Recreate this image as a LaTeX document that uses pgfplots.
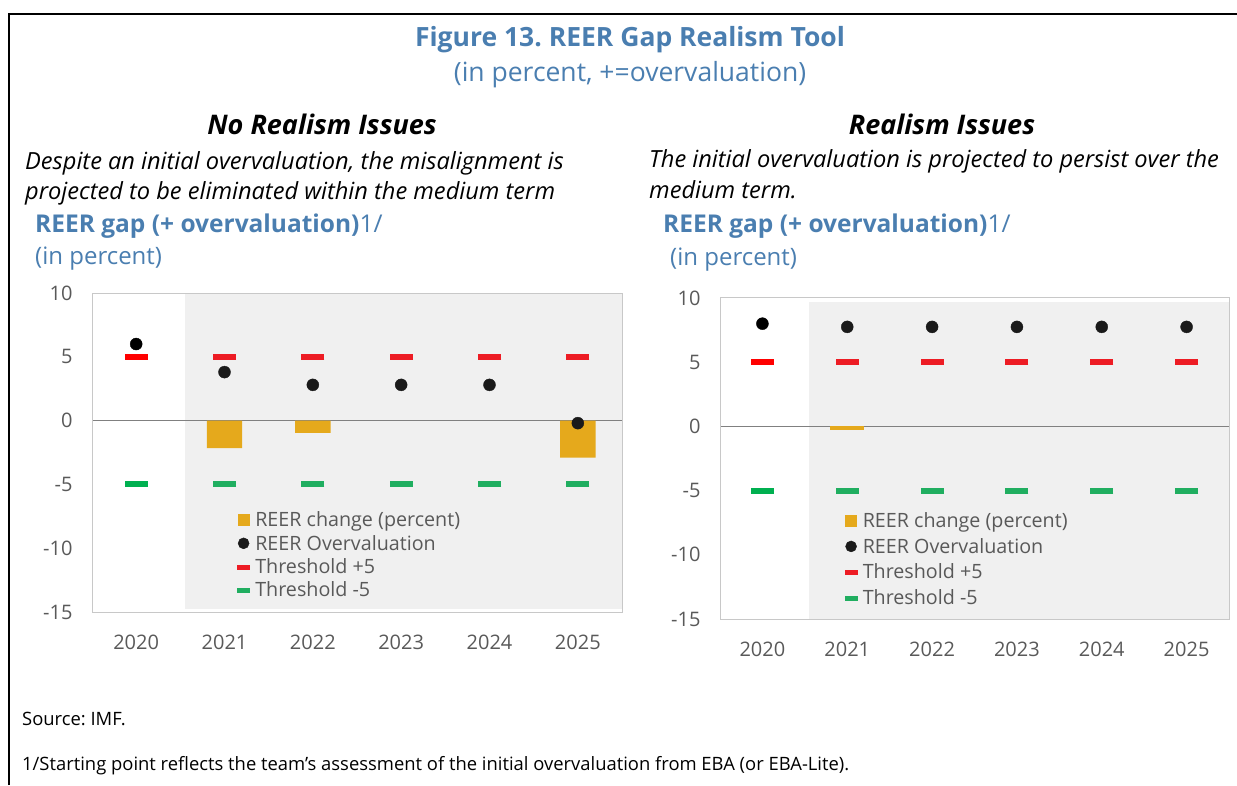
\documentclass[border=0pt]{standalone}
\usepackage{pgfplots}
\pgfplotsset{compat=1.18}
\usepackage{fontspec}
\setmainfont{Open Sans}
\frenchspacing
\definecolor{titleblue}{RGB}{74,126,176}
\definecolor{barc}{RGB}{229,169,28}
\definecolor{shadec}{RGB}{240,240,240}
\definecolor{redA}{RGB}{255,0,0}
\definecolor{redB}{RGB}{237,28,36}
\definecolor{greenA}{RGB}{0,176,80}
\definecolor{greenB}{RGB}{32,174,96}
\definecolor{dotc}{RGB}{26,26,26}
\definecolor{tickc}{RGB}{89,89,89}
\definecolor{axisc}{RGB}{200,200,200}
\definecolor{zeroc}{RGB}{128,128,128}
\pgfplotsset{reer/.style={
  scale only axis,
  xmin=-0.5, xmax=5.5, ymin=-15, ymax=10,
  ytick={-15,-10,-5,0,5,10},
  xtick={0,1,2,3,4,5},
  xticklabels={2020,2021,2022,2023,2024,2025},
  major tick length=0pt,
  axis line style={draw=axisc, line width=1pt},
  tick label style={font=\fontsize{20}{23}\selectfont, text=tickc},
  /pgf/number format/assume math mode=true,
  yticklabel style={xshift=-16pt},
  xticklabel style={yshift=-19pt},
  axis on top,
  legend cell align=left,
  legend style={draw=none, fill=none, font=\fontsize{19.7}{23}\selectfont, text=tickc,
    inner sep=0pt, nodes={inner sep=1.5pt},
    /tikz/every odd column/.append style={column sep=4pt}},
}}
\begin{document}
\begin{tikzpicture}[x=1pt,y=1pt]
\useasboundingbox (0,0) rectangle (1237,785);
\draw[line width=2pt] (8.5,0) -- (8.5,771) -- (1237,771);
% titles
\node[anchor=base, text=titleblue, font=\fontsize{26.5}{30}\selectfont\bfseries] at (630,738) {Figure 13. REER Gap Realism Tool};
\node[anchor=base, text=titleblue, font=\fontsize{26.5}{30}\selectfont] at (630,703) {(in percent, +=overvaluation)};
\node[anchor=base, font=\fontsize{27}{31}\selectfont\bfseries\itshape] at (322,650) {No Realism Issues};
\node[anchor=base, font=\fontsize{27}{31}\selectfont\bfseries\itshape] at (942,650) {Realism Issues};
\node[anchor=base west, inner sep=0pt, font=\fontsize{23.6}{27}\selectfont\itshape] at (25,615) {Despite an initial overvaluation, the misalignment is};
\node[anchor=base west, inner sep=0pt, font=\fontsize{23.6}{27}\selectfont\itshape] at (25,585) {projected to be eliminated within the medium term};
\node[anchor=base west, inner sep=0pt, font=\fontsize{23.6}{27}\selectfont\itshape] at (649,617) {The initial overvaluation is projected to persist over the};
\node[anchor=base west, inner sep=0pt, font=\fontsize{23.6}{27}\selectfont\itshape] at (649,586) {medium term.};
\node[anchor=base west, inner sep=0pt, text=titleblue, font=\fontsize{24.5}{28}\selectfont] at (35,552) {\textbf{REER gap (+ overvaluation)}1/};
\node[anchor=base west, inner sep=0pt, text=titleblue, font=\fontsize{24}{28}\selectfont] at (35,520) {(in percent)};
\node[anchor=base west, inner sep=0pt, text=titleblue, font=\fontsize{24.5}{28}\selectfont] at (663,552) {\textbf{REER gap (+ overvaluation)}1/};
\node[anchor=base west, inner sep=0pt, text=titleblue, font=\fontsize{24}{28}\selectfont] at (670,519) {(in percent)};
\node[anchor=base west, inner sep=0pt, font=\fontsize{18.4}{22}\selectfont] at (22,60) {Source: IMF.};
\node[anchor=base west, inner sep=0pt, font=\fontsize{18.4}{22}\selectfont] at (22,15) {1/Starting point reflects the team’s assessment of the initial overvaluation from EBA (or EBA-Lite).};

% left axis
\begin{axis}[reer, at={(92pt,173pt)}, anchor=south west, width=530pt, height=319pt,
  legend style={at={(0.274,0.32)}, anchor=north west, row sep=4pt}]
\addplot[draw=none, fill=shadec, forget plot] coordinates {(0.55,-14.75) (0.55,10) (5.5,10) (5.5,-14.75)} -- cycle;
\addplot[zeroc, line width=1.6pt, forget plot] coordinates {(-0.5,0) (5.5,0)};
\addplot[ybar, bar width=0.4, fill=barc, draw=none,
  legend image code/.code={\fill[barc] (0pt,-6pt) rectangle (12pt,6pt);}]
  coordinates {(1,-2.15) (2,-0.97) (5,-2.9)};
\addlegendentry{REER change (percent)}
\addplot[only marks, mark=*, mark size=6pt, mark options={fill=dotc, draw=dotc},
  legend image code/.code={\fill[dotc] (6pt,0pt) circle (5.5pt);}]
  coordinates {(1,3.8) (2,2.8) (3,2.8) (4,2.8) (5,-0.2)};
\addlegendentry{REER Overvaluation}
\addplot[only marks, mark=-, mark size=11.5pt, mark options={line width=6pt, draw=redB},
  legend image code/.code={\fill[redB] (0pt,-2pt) rectangle (12pt,2pt);}]
  coordinates {(1,5) (2,5) (3,5) (4,5) (5,5)};
\addlegendentry{Threshold +5}
\addplot[only marks, mark=-, mark size=11.5pt, mark options={line width=6pt, draw=greenB},
  legend image code/.code={\fill[greenB] (0pt,-2pt) rectangle (12pt,2pt);}]
  coordinates {(1,-5) (2,-5) (3,-5) (4,-5) (5,-5)};
\addlegendentry{Threshold -5}
\addplot[only marks, mark=-, mark size=11.5pt, mark options={line width=6pt, draw=redA}, forget plot] coordinates {(0,5)};
\addplot[only marks, mark=-, mark size=11.5pt, mark options={line width=6pt, draw=greenA}, forget plot] coordinates {(0,-5)};
\addplot[only marks, mark=*, mark size=6pt, mark options={fill=black, draw=black}, forget plot] coordinates {(0,6.0)};
\end{axis}

% right axis
\begin{axis}[reer, at={(720pt,166pt)}, anchor=south west, width=509pt, height=321pt,
  legend style={at={(0.245,0.337)}, anchor=north west, row sep=6.2pt}]
\addplot[draw=none, fill=shadec, forget plot] coordinates {(0.55,-15) (0.55,9.7) (5.5,9.7) (5.5,-15)} -- cycle;
\addplot[zeroc, line width=1.6pt, forget plot] coordinates {(-0.5,0) (5.5,0)};
\addplot[ybar, bar width=0.4, fill=barc, draw=none,
  legend image code/.code={\fill[barc] (0pt,-6pt) rectangle (12pt,6pt);}]
  coordinates {(1,-0.25)};
\addlegendentry{REER change (percent)}
\addplot[only marks, mark=*, mark size=6pt, mark options={fill=dotc, draw=dotc},
  legend image code/.code={\fill[dotc] (6pt,0pt) circle (5.5pt);}]
  coordinates {(1,7.75) (2,7.75) (3,7.75) (4,7.75) (5,7.75)};
\addlegendentry{REER Overvaluation}
\addplot[only marks, mark=-, mark size=11.5pt, mark options={line width=6pt, draw=redB},
  legend image code/.code={\fill[redB] (0pt,-2pt) rectangle (12pt,2pt);}]
  coordinates {(1,5) (2,5) (3,5) (4,5) (5,5)};
\addlegendentry{Threshold +5}
\addplot[only marks, mark=-, mark size=11.5pt, mark options={line width=6pt, draw=greenB},
  legend image code/.code={\fill[greenB] (0pt,-2pt) rectangle (12pt,2pt);}]
  coordinates {(1,-5) (2,-5) (3,-5) (4,-5) (5,-5)};
\addlegendentry{Threshold -5}
\addplot[only marks, mark=-, mark size=11.5pt, mark options={line width=6pt, draw=redA}, forget plot] coordinates {(0,5)};
\addplot[only marks, mark=-, mark size=11.5pt, mark options={line width=6pt, draw=greenA}, forget plot] coordinates {(0,-5)};
\addplot[only marks, mark=*, mark size=6pt, mark options={fill=black, draw=black}, forget plot] coordinates {(0,8.0)};
\end{axis}
\end{tikzpicture}
\end{document}
